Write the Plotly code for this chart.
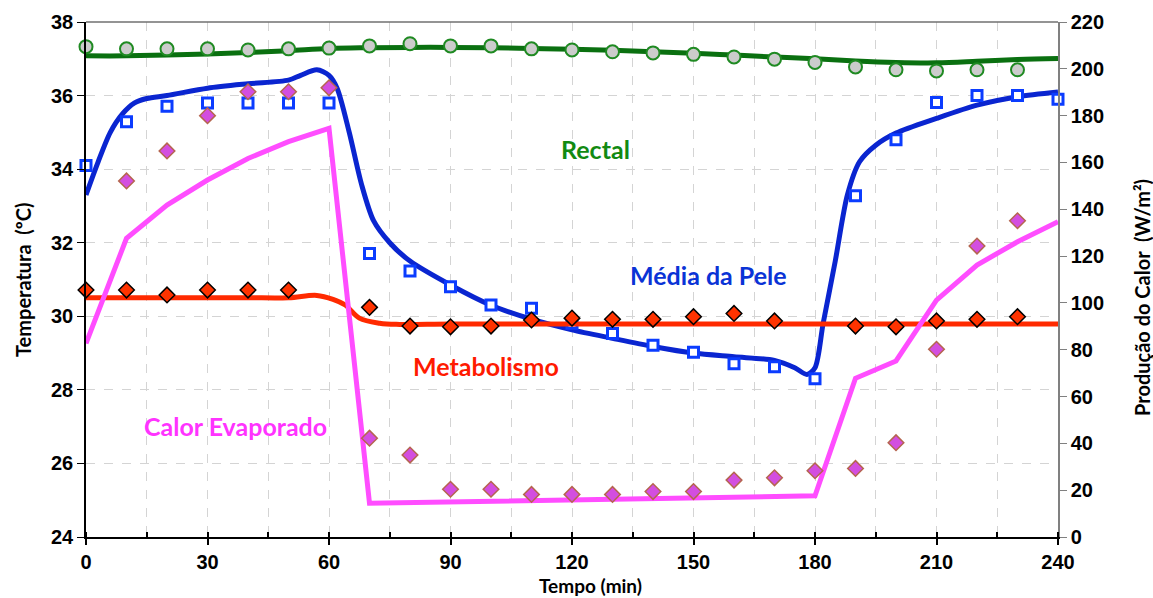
import plotly.graph_objects as go

# ---------------- data ----------------
t_pts = [0, 10, 20, 30, 40, 50, 60, 70, 80, 90, 100, 110, 120, 130, 140, 150,
         160, 170, 180, 190, 200, 210, 220, 230]

# Rectal temperature (measured, ºC)
rectal_obs = [37.33, 37.27, 37.27, 37.27, 37.24, 37.27, 37.29, 37.35, 37.41, 37.35,
              37.35, 37.27, 37.24, 37.19, 37.16, 37.12, 37.05, 36.99, 36.90, 36.78,
              36.70, 36.67, 36.70, 36.70]
# Rectal temperature (model)
rectal_t = [0, 10, 20, 30, 40, 50, 60, 70, 80, 90, 100, 110, 120, 130, 140, 150,
            160, 170, 180, 190, 200, 210, 220, 230, 240]
rectal_mod = [37.08, 37.08, 37.10, 37.13, 37.17, 37.22, 37.28, 37.30, 37.31, 37.31,
              37.30, 37.28, 37.26, 37.23, 37.19, 37.15, 37.10, 37.05, 37.00, 36.94,
              36.90, 36.89, 36.93, 36.98, 37.01]

# Mean skin temperature (measured, ºC)
skin_t = [0, 10, 20, 30, 40, 50, 60, 70, 80, 90, 100, 110, 120, 130, 140, 150,
          160, 170, 180, 190, 200, 210, 220, 230, 240]
skin_obs = [34.10, 35.29, 35.71, 35.80, 35.80, 35.80, 35.80, 31.71, 31.23, 30.80,
            30.31, 30.22, 29.81, 29.53, 29.21, 29.02, 28.71, 28.63, 28.30, 33.28,
            34.80, 35.81, 36.00, 36.00, 35.90]
# Mean skin temperature (model)
skin_mod_t = [0, 3, 6, 9, 12, 15, 20, 30, 40, 50, 53, 57, 60, 62, 65, 68, 71, 75,
              80, 90, 100, 110, 120, 130, 140, 150, 160, 170, 175, 178, 180, 182,
              185, 188, 191, 195, 200, 210, 220, 230, 240]
skin_mod = [33.30, 34.20, 35.00, 35.50, 35.80, 35.92, 36.00, 36.20, 36.32, 36.42,
            36.55, 36.70, 36.55, 36.20, 35.00, 33.60, 32.60, 32.00, 31.50, 30.85,
            30.30, 29.92, 29.63, 29.40, 29.18, 29.00, 28.90, 28.80, 28.60, 28.42,
            28.60, 29.80, 31.50, 33.30, 34.20, 34.65, 34.98, 35.38, 35.74, 35.97,
            36.10]

# Metabolism (W/m²)
met_t = [0, 10, 20, 30, 40, 50, 70, 80, 90, 100, 110, 120, 130, 140, 150, 160, 170,
         190, 200, 210, 220, 230]
met_obs = [105.5, 105.5, 103.4, 105.5, 105.5, 105.5, 98.1, 90.1, 89.8, 90.1, 92.7,
           93.5, 93.0, 93.0, 94.1, 95.5, 92.3, 90.1, 89.8, 92.3, 93.0, 94.1]
met_mod_t = [0, 10, 20, 30, 40, 50, 57, 61, 64, 67.5, 72.5, 77.5, 90, 120, 150, 180,
             210, 240]
met_mod = [102.2, 102.2, 102.2, 102.2, 102.2, 102.2, 103.2, 101.5, 99.1, 93.5, 91.3,
           90.8, 91.0, 91.0, 91.0, 91.0, 91.0, 91.0]

# Evaporated heat (W/m²)
evap_t = [10, 20, 30, 40, 50, 60, 70, 80, 90, 100, 110, 120, 130, 140, 150, 160, 170,
          180, 190, 200, 210, 220, 230]
evap_obs = [152.1, 164.9, 180.0, 190.2, 190.2, 191.9, 42.2, 35.0, 20.4, 20.4, 18.2,
            18.2, 18.2, 19.4, 19.4, 24.3, 25.3, 28.3, 29.3, 40.3, 80.2, 124.3, 135.1]
evap_mod_t = [0, 10, 20, 30, 40, 50, 60, 70, 180, 190, 200, 210, 220, 230, 240]
evap_mod = [82.7, 127.6, 141.8, 152.5, 161.7, 168.9, 174.6, 14.4, 17.6, 67.8, 75.2,
            101.2, 116.2, 126.1, 134.7]

x_ticks = [0, 30, 60, 90, 120, 150, 180, 210, 240]
yl_ticks = [24, 26, 28, 30, 32, 34, 36, 38]
yr_ticks = [0, 20, 40, 60, 80, 100, 120, 140, 160, 180, 200, 220]

# ---------------- colours ----------------
GREEN = "#0a7010"
BLUE = "#0a25d0"
BLUE_M = "#0b3cff"
RED = "#ff2a00"
PINK = "#ff4dff"

fig = go.Figure()

# Metabolism
fig.add_trace(go.Scatter(x=met_mod_t, y=met_mod, mode="lines", yaxis="y2",
                         line=dict(color=RED, width=5, shape="spline", smoothing=1.0),
                         hoverinfo="skip"))
fig.add_trace(go.Scatter(x=met_t, y=met_obs, mode="markers", yaxis="y2", cliponaxis=False,
                         marker=dict(symbol="diamond", size=12, color="#ff3300",
                                     line=dict(color="black", width=1.5))))
# Evaporated heat
fig.add_trace(go.Scatter(x=evap_mod_t, y=evap_mod, mode="lines", yaxis="y2",
                         line=dict(color=PINK, width=5)))
fig.add_trace(go.Scatter(x=evap_t, y=evap_obs, mode="markers", yaxis="y2", cliponaxis=False,
                         marker=dict(symbol="diamond", size=12, color="#d34ee0",
                                     line=dict(color="#b5654f", width=1.5))))
# Rectal
fig.add_trace(go.Scatter(x=rectal_t, y=rectal_mod, mode="lines", yaxis="y",
                         line=dict(color=GREEN, width=5, shape="spline", smoothing=1.0)))
fig.add_trace(go.Scatter(x=t_pts, y=rectal_obs, mode="markers", yaxis="y", cliponaxis=False,
                         marker=dict(symbol="circle", size=13, color="#cccccc",
                                     line=dict(color="#1f8a22", width=2))))
# Skin
fig.add_trace(go.Scatter(x=skin_mod_t, y=skin_mod, mode="lines", yaxis="y",
                         line=dict(color=BLUE, width=5, shape="spline", smoothing=0.8)))
fig.add_trace(go.Scatter(x=skin_t, y=skin_obs, mode="markers", yaxis="y", cliponaxis=False,
                         marker=dict(symbol="square", size=10, color="white",
                                     line=dict(color=BLUE_M, width=3))))

tick_font = dict(family="Arial, Liberation Sans, sans-serif", size=20, color="black",
                 weight=700)
grid = dict(showgrid=True, gridcolor="#d4d4d4", griddash="dash", gridwidth=1)


def bold(vals):
    return ["<b>%d</b>" % v for v in vals]


fig.update_layout(
    width=1153, height=598,
    margin=dict(l=86, r=95, t=22, b=61),
    paper_bgcolor="white", plot_bgcolor="white",
    showlegend=False,
    xaxis=dict(range=[0, 240], tickvals=x_ticks, ticktext=bold(x_ticks),
               ticks="outside", ticklen=6,
               tickwidth=1.5, tickcolor="black", showline=True, linecolor="black",
               linewidth=1.5, mirror=False, tickfont=tick_font, zeroline=False,
               minor=dict(dtick=15, ticks="inside", ticklen=5, tickcolor="black",
                          showgrid=True, gridcolor="#d4d4d4", griddash="dash"),
               **grid),
    yaxis=dict(range=[24, 38], tickvals=yl_ticks, ticktext=bold(yl_ticks),
               ticks="outside", ticklen=7,
               tickwidth=1, tickcolor="black", showline=True, linecolor="black",
               linewidth=1.5, tickfont=tick_font, zeroline=False, **grid),
    yaxis2=dict(range=[0, 220], tickvals=yr_ticks, ticktext=bold(yr_ticks),
                ticks="outside", ticklen=7,
                tickwidth=1, tickcolor="#808080", showline=True, linecolor="#808080",
                linewidth=1.5, overlaying="y", side="right", showgrid=False,
                tickfont=tick_font, zeroline=False),
)

# top frame line
fig.add_shape(type="line", xref="paper", yref="paper", x0=0, x1=1, y0=1, y1=1,
              line=dict(color="#707070", width=1.5))

lab_font = "Lato, 'Open Sans', sans-serif"
labels = [
    ("Rectal", 125.9, 34.55, "#128a12"),
    ("Média da Pele", 153.6, 31.12, "#0a33d6"),
    ("Metabolismo", 98.8, 28.65, "#ff1a00"),
    ("Calor Evaporado", 36.8, 27.02, "#ff33ff"),
]
for txt, xv, yv, col in labels:
    fig.add_annotation(x=xv, y=yv, xref="x", yref="y", text="<b>%s</b>" % txt,
                       showarrow=False,
                       font=dict(family=lab_font, size=25, color=col))

title_font = dict(family=lab_font, size=19, color="black")
fig.add_annotation(text="<b>Tempo (min)</b>", xref="paper", yref="paper",
                   x=(590 - 86) / 972, y=-(585 - 537) / 515, showarrow=False,
                   xanchor="center", yanchor="middle", font=title_font)
fig.add_annotation(text="<b>Temperatura \u00a0(ºC)</b>", xref="paper", yref="paper",
                   x=(23 - 86) / 972, y=(537 - 280) / 515, showarrow=False,
                   xanchor="center", yanchor="middle",
                   textangle=-90, font=dict(family=lab_font, size=20, color="black"))
fig.add_annotation(text="<b>Produção do Calor \u00a0(W/m²)</b>", xref="paper", yref="paper",
                   x=(1142 - 86) / 972, y=(537 - 298) / 515, showarrow=False,
                   xanchor="center", yanchor="middle",
                   textangle=-90, font=dict(family=lab_font, size=20, color="black"))

fig.write_html("out.html")
